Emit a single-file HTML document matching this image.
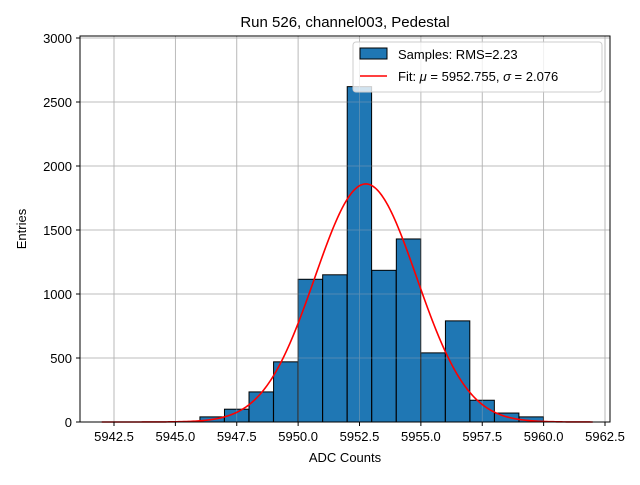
<!DOCTYPE html>
<html><head><meta charset="utf-8"><style>
body{margin:0;background:#fff;}
svg text{font-family:"Liberation Sans","DejaVu Sans",sans-serif;}
</style></head><body>
<svg id="c" width="640" height="480" xmlns="http://www.w3.org/2000/svg">
<rect width="640" height="480" fill="#fff"/>
<text x="345" y="27" font-size="15" text-anchor="middle">Run 526, channel003, Pedestal</text>
<g id="gridBack"></g>
<g id="bars"></g>
<g id="gridFront" opacity="0.45"></g>
<path id="fit" fill="none" stroke="#ff0000" stroke-width="1.6"/>
<rect x="80" y="36" width="530" height="386" fill="none" stroke="#000" stroke-width="1"/>
<g id="ticks"></g>
<text x="345" y="462" font-size="13" text-anchor="middle">ADC Counts</text>
<text transform="translate(26,229) rotate(-90)" font-size="13" text-anchor="middle">Entries</text>
<g>
<rect x="353" y="42" width="249" height="50" rx="3" fill="#fff" fill-opacity="0.8" stroke="#ccc"/>
<rect x="360" y="48" width="27" height="11" fill="#1f77b4" stroke="#000"/>
<text x="398" y="59" font-size="13">Samples: RMS=2.23</text>
<line x1="360" y1="76" x2="387" y2="76" stroke="#f00" stroke-width="1.6"/>
<text x="398" y="81" font-size="13">Fit: <tspan font-style="italic">μ</tspan> = 5952.755, <tspan font-style="italic">σ</tspan> = 2.076</text>
</g>
</svg>
<script>
const binStarts=[5946,5947,5948,5949,5950,5951,5952,5953,5954,5955,5956,5957,5958,5959];
const counts=[40,100,235,470,1115,1150,2620,1185,1430,540,790,170,70,40];
const binWidth=0.993;
const fitMu=5952.755, fitSigma=2.076, fitPeak=1860, fitMin=5942, fitMax=5962;
const xTicks=[5942.5,5945.0,5947.5,5950.0,5952.5,5955.0,5957.5,5960.0,5962.5];
const yTicks=[0,500,1000,1500,2000,2500,3000];
const NS='http://www.w3.org/2000/svg';
const X=v=>114+(v-5942.5)*24.55;
const Y=v=>422-v*0.128;
function mk(t,a,p){const e=document.createElementNS(NS,t);for(const k in a)e.setAttribute(k,a[k]);p.appendChild(e);return e;}
['gridBack','gridFront'].forEach(id=>{const g=document.getElementById(id);
xTicks.forEach(t=>{const l=mk('line',{x1:X(t),x2:X(t),y1:36,y2:422,stroke:'#b0b0b0','stroke-width':0.8},g);

});
yTicks.forEach(t=>{const l=mk('line',{x1:80,x2:610,y1:Y(t),y2:Y(t),stroke:'#b0b0b0','stroke-width':0.8},g);

});});
const bg=document.getElementById('bars');
binStarts.forEach((b,i)=>{const r=mk('rect',{x:X(b),y:Y(counts[i]),width:binWidth*24.55,height:Y(0)-Y(counts[i]),fill:'#1f77b4',stroke:'#000','stroke-width':1},bg);

});
let d='';for(let i=0;i<=300;i++){const v=fitMin+(fitMax-fitMin)*i/300;const y=fitPeak*Math.exp(-0.5*((v-fitMu)/fitSigma)**2);d+=(i?'L':'M')+X(v).toFixed(2)+','+Y(y).toFixed(2);}
document.getElementById('fit').setAttribute('d',d);
const tg=document.getElementById('ticks');
xTicks.forEach(t=>{mk('line',{x1:X(t),x2:X(t),y1:422,y2:426,stroke:'#000'},tg);
const tx=mk('text',{x:X(t),y:441,'font-size':13,'text-anchor':'middle'},tg);tx.textContent=t.toFixed(1);

});
yTicks.forEach(t=>{mk('line',{x1:76,x2:80,y1:Y(t),y2:Y(t),stroke:'#000'},tg);
const tx=mk('text',{x:72,y:Y(t)+5,'font-size':13,'text-anchor':'end'},tg);tx.textContent=t;

});
</script>
</body></html>
